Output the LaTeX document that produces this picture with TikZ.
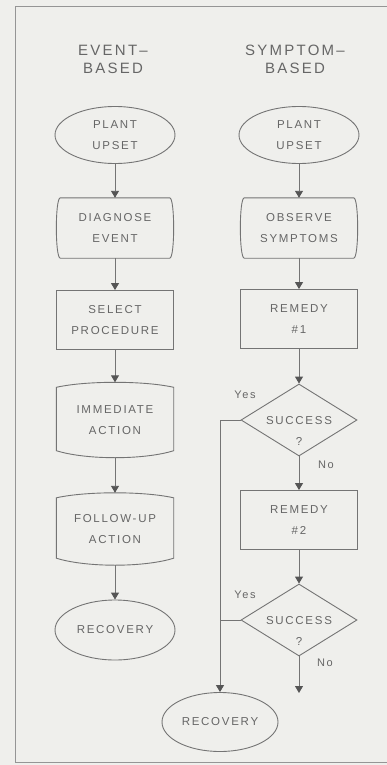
\documentclass[tikz,border=0pt]{standalone}
\usepackage{fontspec}
\newfontfamily\lab[LetterSpace=15]{Liberation Sans}
\usetikzlibrary{shapes.geometric,arrows.meta,calc}
\definecolor{paper}{HTML}{EFEFEC}
\definecolor{ln}{HTML}{747474}
\definecolor{txt}{HTML}{666666}
\definecolor{tipc}{HTML}{555555}
\definecolor{framec}{HTML}{959595}

% outline with straight top/bottom and sides bulging outwards
\newcommand\sidebulge[1]{%
  \draw[shp] ($(#1.north west)+(4,0)$) -- ($(#1.north east)+(-4,0)$)
    .. controls ($(#1.north east)+(1.3,0)$) and ($(#1.south east)+(1.3,0)$) .. ($(#1.south east)+(-4,0)$)
    -- ($(#1.south west)+(4,0)$)
    .. controls ($(#1.south west)+(-1.3,0)$) and ($(#1.north west)+(-1.3,0)$) .. cycle;}
% outline with straight sides and bowed top/bottom
\newcommand\bowbox[1]{%
  \draw[shp] ($(#1.north west)+(0,5)$)
    .. controls ($(#1.north west)+(30,-1.67)$) and ($(#1.north east)+(-30,-1.67)$) .. ($(#1.north east)+(0,5)$)
    -- ($(#1.south east)+(0,-7)$)
    .. controls ($(#1.south east)+(-30,2.33)$) and ($(#1.south west)+(30,2.33)$) .. ($(#1.south west)+(0,-7)$)
    -- cycle;}

\begin{document}
\begin{tikzpicture}[x=1pt,y=-1pt,
  shp/.style={draw=ln, line width=0.9pt},
  txtn/.style={font=\lab\fontsize{11.5}{21}\selectfont, text=txt, align=center, inner sep=0pt},
  head/.style={font=\lab\fontsize{15}{18}\selectfont, text=txt, align=center, inner sep=0pt},
  small/.style={font=\lab\fontsize{11}{13}\selectfont, text=txt, inner sep=0pt},
  oval/.style={txtn, ellipse, shp, minimum width=120pt, minimum height=57pt},
  rectn/.style={txtn, rectangle, shp, minimum width=117pt, minimum height=59pt},
  blank/.style={txtn, rectangle, minimum width=117pt},
  dia/.style={diamond, shp, minimum width=116pt, minimum height=72pt, inner sep=0pt},
  arr/.style={shp, -{Triangle[length=7pt,width=8pt,color=tipc]}},
]
\fill[paper] (0,0) rectangle (387,765);
\useasboundingbox (0,0) rectangle (387,765);
\draw[framec, line width=1pt] (387,7) -- (15,7) -- (15,762) -- (387,762);

% column headings
\node[head] (h1) at (113,59) {EVENT–\\BASED};
\node[head] (h2) at (295,59) {SYMPTOM–\\BASED};

% event-based column
\node[oval] (pu1) at (115,135) {PLANT\\UPSET};
\node[blank, minimum height=60pt] (diag) at (115,228) {DIAGNOSE\\EVENT};
\sidebulge{diag}
\node[rectn] (sel) at (115,320) {SELECT\\PROCEDURE};
\node[blank, minimum height=75pt] (imm) at (115,420) {IMMEDIATE\\ACTION};
\bowbox{imm}
\node[blank, minimum height=72pt] (fol) at (115,529) {FOLLOW-UP\\ACTION};
\bowbox{fol}
\node[oval, minimum height=60pt] (rec1) at (115,630) {RECOVERY};

% symptom-based column
\node[oval] (pu2) at (299,135) {PLANT\\UPSET};
\node[blank, minimum height=60pt] (obs) at (299,228) {OBSERVE\\SYMPTOMS};
\sidebulge{obs}
\node[rectn] (rem1) at (299,319) {REMEDY\\\#1};
\node[dia] (suc1) at (299,420) {};
\node[txtn, align=center] (suc1t) at (299,431) {SUCCESS\\?};
\node[rectn] (rem2) at (299,520) {REMEDY\\\#2};
\node[dia] (suc2) at (299,620) {};
\node[txtn] (suc2t) at (299,631) {SUCCESS\\?};
\node[oval, minimum width=116pt, minimum height=59pt] (rec2) at (220,722) {RECOVERY};
\coordinate (end2) at (299,693);

% branch labels
\node[small] (y1) at (245,395) {Yes};
\node[small] (n1) at (326,465) {No};
\node[small] (y2) at (245,595) {Yes};
\node[small] (n2) at (325,663) {No};

% connectors
\draw[arr] (pu1) -- (diag);
\draw[arr] (diag) -- (sel);
\draw[arr] (sel) -- (imm);
\draw[arr] (imm) -- (fol);
\draw[arr] (fol) -- (rec1);
\draw[arr] (pu2) -- (obs);
\draw[arr] (obs) -- (rem1);
\draw[arr] (rem1) -- (suc1);
\draw[arr] (suc1) -- (rem2);
\draw[arr] (rem2) -- (suc2);
\draw[arr] (suc2) -- (end2);
\draw[arr] (suc1.west) -| (rec2.north);
\draw[shp] (suc2.west) -- (suc2.west -| rec2.north);
\end{tikzpicture}
\end{document}
